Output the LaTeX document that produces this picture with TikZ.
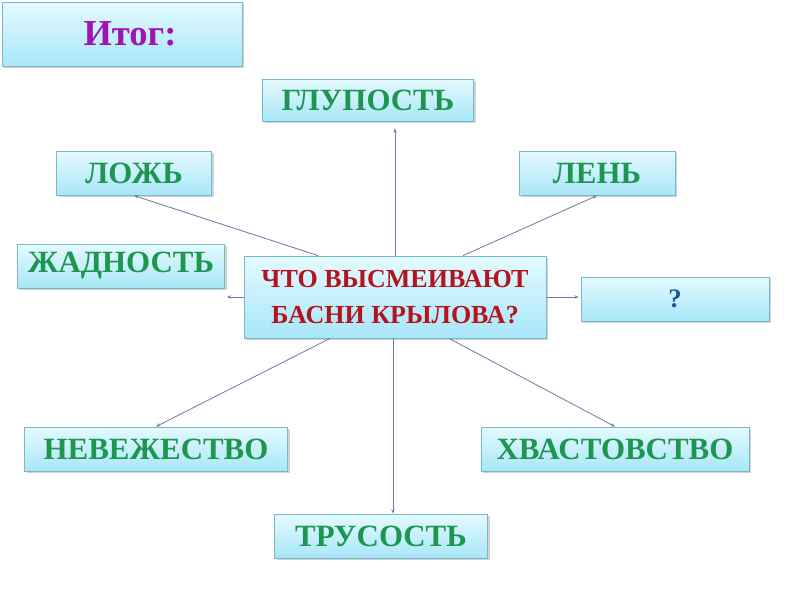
\documentclass[tikz,border=0pt]{standalone}
\usepackage{fontspec}
\setmainfont{Liberation Serif}
\usetikzlibrary{shadows,arrows.meta}

\definecolor{boxtop}{RGB}{228,250,255}
\definecolor{boxbot}{RGB}{168,230,248}
\definecolor{boxline}{RGB}{120,185,200}
\definecolor{linkline}{RGB}{110,125,170}
\definecolor{titlecol}{RGB}{160,20,180}
\definecolor{askcol}{RGB}{180,20,30}
\definecolor{vicecol}{RGB}{30,150,80}
\definecolor{unknowncol}{RGB}{30,85,150}

\begin{document}
\begin{tikzpicture}[
    card/.style={draw=boxline, line width=0.6pt, top color=boxtop, bottom color=boxbot,
        drop shadow={shadow xshift=1.5pt, shadow yshift=-1.5pt, opacity=0.35},
        inner sep=0pt, align=center, font=\bfseries},
    vice/.style={card, minimum height=1.1cm, text=vicecol, font=\fontsize{22}{24}\selectfont\bfseries},
    link/.style={draw=linkline, line width=0.6pt, -{Stealth[length=3pt,width=2.5pt]}}
]

\useasboundingbox (0,0) rectangle (20,-15);

% -----------------------------
% Title and question
% -----------------------------
\node[card, minimum width=6cm, minimum height=1.6cm, text=titlecol,
      font=\fontsize{26}{30}\selectfont\bfseries] (itog) at (3.05,-0.85) {\hspace{0.4cm}Итог:};

\node[card, minimum width=7.55cm, minimum height=2.05cm, text=askcol,
      font=\fontsize{18.5}{25.5}\selectfont\bfseries] (ask) at (9.875,-7.425)
      {ЧТО ВЫСМЕИВАЮТ\\БАСНИ КРЫЛОВА?};

% -----------------------------
% What the fables mock
% -----------------------------
\node[vice, minimum width=5.275cm, minimum height=1.05cm] (glup) at (9.2,-2.5) {ГЛУПОСТЬ};
\node[vice, minimum width=3.875cm] (lozh) at (3.35,-4.33) {ЛОЖЬ};
\node[vice, minimum width=3.9cm]   (len)  at (14.925,-4.33) {ЛЕНЬ};
\node[vice, minimum width=5.175cm] (zhad) at (3.025,-6.65) {ЖАДНОСТЬ};
\node[vice, minimum width=4.7cm, text=unknowncol,
      font=\fontsize{19}{21}\selectfont\bfseries] (qst) at (16.875,-7.475) {?};
\node[vice, minimum width=6.575cm] (nevezh) at (3.9,-11.225) {НЕВЕЖЕСТВО};
\node[vice, minimum width=6.7cm]   (hvast)  at (15.375,-11.225) {ХВАСТОВСТВО};
\node[vice, minimum width=5.325cm] (trus)   at (9.525,-13.4) {ТРУСОСТЬ};

% -----------------------------
% Links from the question
% -----------------------------
\draw[link] (ask.north) -- ([yshift=-0.175cm]glup.south -| ask.north);
\draw[link] ([xshift=-1.925cm]ask.north) -- (lozh.south);
\draw[link] ([xshift=1.7cm]ask.north) -- (len.south);
\draw[link] (ask.west) -- ([xshift=0.05cm]ask.west -| zhad.east);
\draw[link] (ask.east) -- ([xshift=-0.05cm]ask.east -| qst.west);
\draw[link] ([xshift=-1.625cm]ask.south) -- (nevezh.north);
\draw[link] ([xshift=1.35cm]ask.south) -- (hvast.north);
\draw[link] ([xshift=-0.05cm]ask.south) -- ([xshift=-0.05cm]ask.south |- trus.north);

\end{tikzpicture}
\end{document}
